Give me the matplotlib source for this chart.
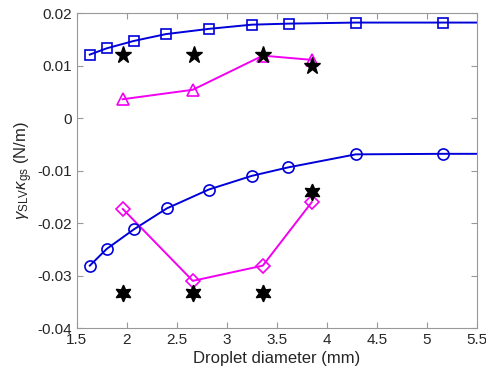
import matplotlib
matplotlib.use("Agg")
import matplotlib.pyplot as plt

plt.rcParams['font.family'] = ['Liberation Sans', 'DejaVu Sans']
plt.rcParams['mathtext.fontset'] = 'custom'
plt.rcParams['mathtext.rm'] = 'Liberation Sans'
plt.rcParams['mathtext.it'] = 'Liberation Sans:italic'

# Data
sq_x = [1.63, 1.80, 2.07, 2.39, 2.82, 3.25, 3.62, 4.29, 5.16]
sq_y = [0.0121, 0.0133, 0.0147, 0.0160, 0.0170, 0.0178, 0.0180, 0.0182, 0.0182]
sq_line_x = sq_x + [5.5]
sq_line_y = sq_y + [0.0182]

ci_x = [1.63, 1.80, 2.07, 2.40, 2.82, 3.25, 3.61, 4.29, 5.16]
ci_y = [-0.0281, -0.0249, -0.0212, -0.0172, -0.0136, -0.0110, -0.0094, -0.0069, -0.0068]
ci_line_x = ci_x + [5.5]
ci_line_y = ci_y + [-0.0068]

tri_x = [1.96, 2.66, 3.36, 3.85]
tri_y = [0.0036, 0.0054, 0.0119, 0.0111]

dia_x = [1.96, 2.66, 3.36, 3.85]
dia_y = [-0.0173, -0.0310, -0.0281, -0.0160]

star_x = [1.96, 2.67, 3.36, 3.85]
star_y = [0.0120, 0.0120, 0.0121, 0.0100]

hex_x = [1.96, 2.66, 3.36, 3.85]
hex_y = [-0.0333, -0.0333, -0.0333, -0.0140]

xticks = [1.5, 2, 2.5, 3, 3.5, 4, 4.5, 5, 5.5]
xticklabels = ['1.5', '2', '2.5', '3', '3.5', '4', '4.5', '5', '5.5']
yticks = [-0.04, -0.03, -0.02, -0.01, 0, 0.01, 0.02]
yticklabels = ['-0.04', '-0.03', '-0.02', '-0.01', '0', '0.01', '0.02']

fig = plt.figure(figsize=(4.86, 3.75), dpi=100)
ax = fig.add_axes([0.158, 0.125, 0.823, 0.84])

blue = (0.0, 0.0, 0.85)
mag = (0.95, 0.0, 0.95)

ax.plot(sq_line_x, sq_line_y, '-', color=blue, lw=1.4, zorder=2)
ax.plot(sq_x, sq_y, 's', color=blue, mfc='none', mew=1.2, ms=7, zorder=3)
ax.plot(ci_line_x, ci_line_y, '-', color=blue, lw=1.4, zorder=2)
ax.plot(ci_x, ci_y, 'o', color=blue, mfc='none', mew=1.2, ms=8, zorder=3)

ax.plot(tri_x, tri_y, '-^', color=mag, mfc='none', mew=1.2, ms=9, lw=1.4, zorder=2)
ax.plot(dia_x, dia_y, '-D', color=mag, mfc='none', mew=1.2, ms=7, lw=1.4, zorder=2)

ax.plot(star_x, star_y, '*', color='black', ms=12.5, zorder=4, ls='none')
ax.plot(hex_x, hex_y, marker=(6, 1, 0), color='black', ms=12, zorder=4, ls='none')

ax.set_xlim(1.5, 5.5)
ax.set_ylim(-0.04, 0.02)
ax.set_xticks(xticks)
ax.set_xticklabels(xticklabels)
ax.set_yticks(yticks)
ax.set_yticklabels(yticklabels)

gray = (0.15, 0.15, 0.15)
ax.tick_params(direction='in', top=True, right=True, labelsize=11,
               colors=(0.6, 0.6, 0.6), labelcolor=gray, length=4, width=0.8)
for s in ax.spines.values():
    s.set_color((0.6, 0.6, 0.6))
    s.set_linewidth(0.8)

ax.set_xlabel('Droplet diameter (mm)', fontsize=12, color=gray, labelpad=3)
ax.set_ylabel(r'$\gamma_{\rm SLV}\kappa_{\rm gs}$ (N/m)', fontsize=12, color=gray, labelpad=2)

fig.savefig('out.png', dpi=100)
